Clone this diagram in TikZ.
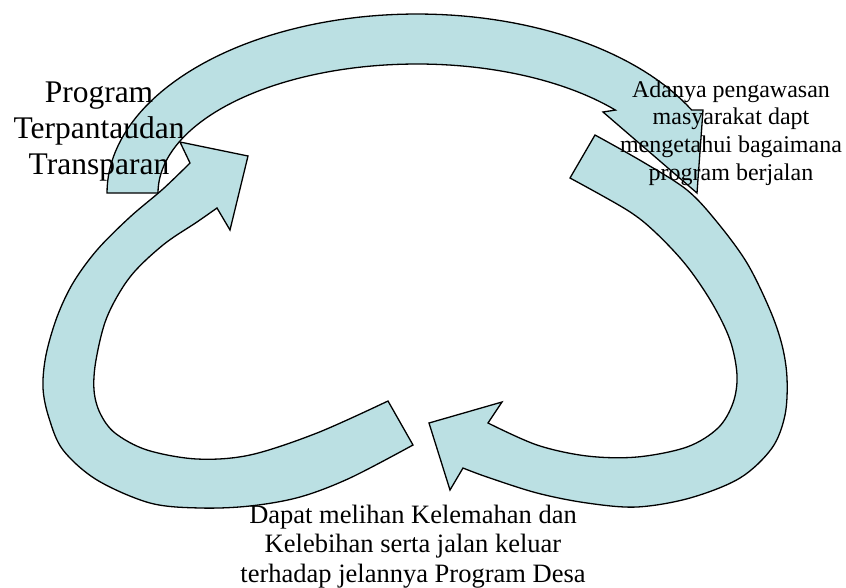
\documentclass[tikz,border=0pt]{standalone}
\usepackage{fontspec}
\setmainfont{Liberation Serif}
\definecolor{arrowfill}{RGB}{187,224,227}
\begin{document}
\begin{tikzpicture}[x=1pt,y=-1pt,
  blockarrow/.style={fill=arrowfill, draw=black, line width=1.3pt, line join=miter},
  lbl/.style={align=center, inner sep=0pt, text=black}]
\useasboundingbox (0,0) rectangle (846,587);

% top arrow (left to right, over the top)
\draw[blockarrow]
  plot[domain=180:332.4, samples=80] ({417+310*cos(\x)},{193+179*sin(\x)})
  -- (703,110) -- (697,193) -- (603,112)
  -- plot[domain=320:180, samples=80] ({417+259*cos(\x)},{193+129*sin(\x)})
  -- cycle;

% right arrow (down the right side, round to the bottom)
\draw[blockarrow]
  plot[smooth, tension=0.55] coordinates {(595,135) (643,162) (687,190) (717,222) (747,263) (770,310) (782,345) (787,378) (785,415) (772,448) (740,478) (690,498) (637,507) (587,503) (537,493) (487,477) (463,468)}
  -- (450,490) -- (429,423) -- (502,402) -- (488,423)
  -- plot[smooth, tension=0.55] coordinates {(488,423) (537,445) (587,456) (637,457) (687,447) (718,428) (733,403) (737,375) (730,340) (712,303) (686,265) (655,232) (627,210) (570,178)}
  -- cycle;

% left arrow (from the bottom, round the left, up to the top)
\draw[blockarrow]
  plot[smooth, tension=0.55] coordinates {(413,445) (350,478) (300,497) (250,506) (200,508) (150,503) (97,480) (63,450) (49,418) (43,388) (46,355) (57,317) (73,283) (97,250) (130,217) (163,189) (190,163)}
  -- (180,142) -- (248,156) -- (230,230) -- (217,208)
  -- plot[smooth, tension=0.55] coordinates {(217,208) (197,222) (163,245) (130,277) (107,317) (96,360) (94,390) (100,413) (115,433) (147,450) (197,459) (250,455) (317,433) (388,401)}
  -- cycle;

\node[lbl, font=\fontsize{31.5}{36}\selectfont] (t1) at (99,132) {Program\\Terpantaudan\\Transparan};
\node[lbl, font=\fontsize{24}{27.7}\selectfont] (t2) at (731,133) {Adanya pengawasan\\masyarakat dapt\\mengetahui bagaimana\\program berjalan};
\node[lbl, font=\fontsize{26.5}{29.5}\selectfont] (t3) at (413,546.3) {Dapat melihan Kelemahan dan\\Kelebihan serta jalan keluar\\terhadap jelannya Program Desa};
\end{tikzpicture}
\end{document}
